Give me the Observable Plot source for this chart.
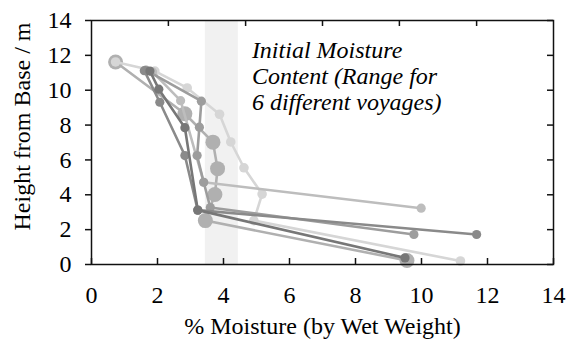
<!DOCTYPE html>
<html><head><meta charset="utf-8">
<script src="https://cdn.jsdelivr.net/npm/d3@7"></script>
<script src="https://cdn.jsdelivr.net/npm/@observablehq/plot@0.6"></script>
<style>body{margin:0;background:#fff} svg{display:block}</style>
</head><body><div id="chart"></div>
<script>
const xTicks = [0, 2, 4, 6, 8, 10, 12, 14];
const yTicks = [0, 2, 4, 6, 8, 10, 12, 14];
const topTicks = [2.33, 4.67, 7, 9.33, 11.67];
const bandRange = [3.45, 4.45];
const xTitle = "% Moisture (by Wet Weight)";
const yTitle = "Height from Base / m";
const noteLines = ["Initial Moisture", "Content (Range for", "6 different voyages)"];
const noteAt = [4.86, 12.92];

// [% moisture, height] per voyage
const voyageA = [[0.73, 11.62], [2.83, 8.65], [3.68, 7.02], [3.82, 5.5], [3.74, 4.02], [3.45, 2.52], [9.56, 0.23]];
const voyageB = [[0.73, 11.62], [1.92, 11.1], [2.9, 10.13], [3.88, 8.62], [4.22, 7.03], [4.62, 5.55], [5.17, 4.04], [4.92, 2.52], [11.18, 0.2]];
const voyageC = [[1.85, 11.05], [2.7, 9.4], [3.4, 4.72], [9.99, 3.23]];
const voyageD = [[1.65, 11.15], [3.33, 9.37], [3.27, 7.88], [3.2, 6.25], [3.4, 4.72], [3.6, 3.27], [9.77, 1.72]];
const voyageE = [[1.6, 11.12], [2.07, 9.31], [2.83, 6.25], [3.22, 3.12], [11.67, 1.72]];
const voyageF = [[1.77, 11.1], [2.04, 10.06], [2.83, 7.85], [3.22, 3.12], [9.5, 0.38]];

const voyages = [voyageA, voyageB, voyageC, voyageD, voyageE, voyageF];
const voyageColors = ["#b0b0b0", "#d6d6d6", "#bdbdbd", "#9d9d9d", "#8a8a8a", "#777777"];
const voyageRadius = [7.5, 4.8, 4.6, 4.6, 4.6, 4.6];

const FONT = '"Liberation Serif","Times New Roman",Times,serif';
const FS = 24;

const seriesMarks = voyages.flatMap((v, i) => [
  Plot.line(v, {x: d => d[0], y: d => d[1], stroke: voyageColors[i], strokeWidth: 2.6}),
  Plot.dot(v, {x: d => d[0], y: d => d[1], r: voyageRadius[i], fill: voyageColors[i]})
]);

const chart = Plot.plot({
  width: 566, height: 340,
  marginLeft: 91, marginRight: 13, marginTop: 20, marginBottom: 76,
  style: {fontFamily: FONT, fontSize: FS + "px", background: "#fff", color: "#000"},
  x: {domain: [0, 14]},
  y: {domain: [0, 14]},
  marks: [
    Plot.rect([bandRange], {x1: d => d[0], x2: d => d[1], fill: "#f1f1f1"}),
    ...seriesMarks,
    Plot.frame({stroke: "#111", strokeWidth: 1.5}),
    Plot.ruleX(xTicks, {x: d => d, y1: 0, y2: 0, insetTop: -6, stroke: "#111", strokeWidth: 1.5}),
    Plot.ruleX(topTicks, {x: d => d, y1: 14, y2: 14, insetBottom: -6, stroke: "#111", strokeWidth: 1.5}),
    Plot.ruleY(yTicks, {y: d => d, x1: 0, x2: 0, insetLeft: -6, stroke: "#111", strokeWidth: 1.5}),
    Plot.ruleY(yTicks, {y: d => d, x1: 14, x2: 14, insetLeft: -6, stroke: "#111", strokeWidth: 1.5}),
    Plot.axisX(xTicks, {tickSize: 0, tickPadding: 21, fontSize: FS, label: null}),
    Plot.axisY(yTicks, {tickSize: 0, tickPadding: 20, fontSize: FS, label: null}),
    Plot.text([xTitle], {frameAnchor: "bottom", dy: 69, fontSize: FS, text: d => d, fill: "#000"}),
    Plot.text([yTitle], {frameAnchor: "left", textAnchor: "middle", rotate: -90, dx: -69, dy: -16, fontSize: FS, text: d => d, fill: "#000"}),
    Plot.text([noteLines.join("\n")], {x: noteAt[0], y: noteAt[1], text: d => d, textAnchor: "start", lineAnchor: "top", fontStyle: "italic", fontSize: FS, lineHeight: 1.08, fill: "#000"})
  ]
});
document.getElementById("chart").append(chart);
</script>
</body></html>
